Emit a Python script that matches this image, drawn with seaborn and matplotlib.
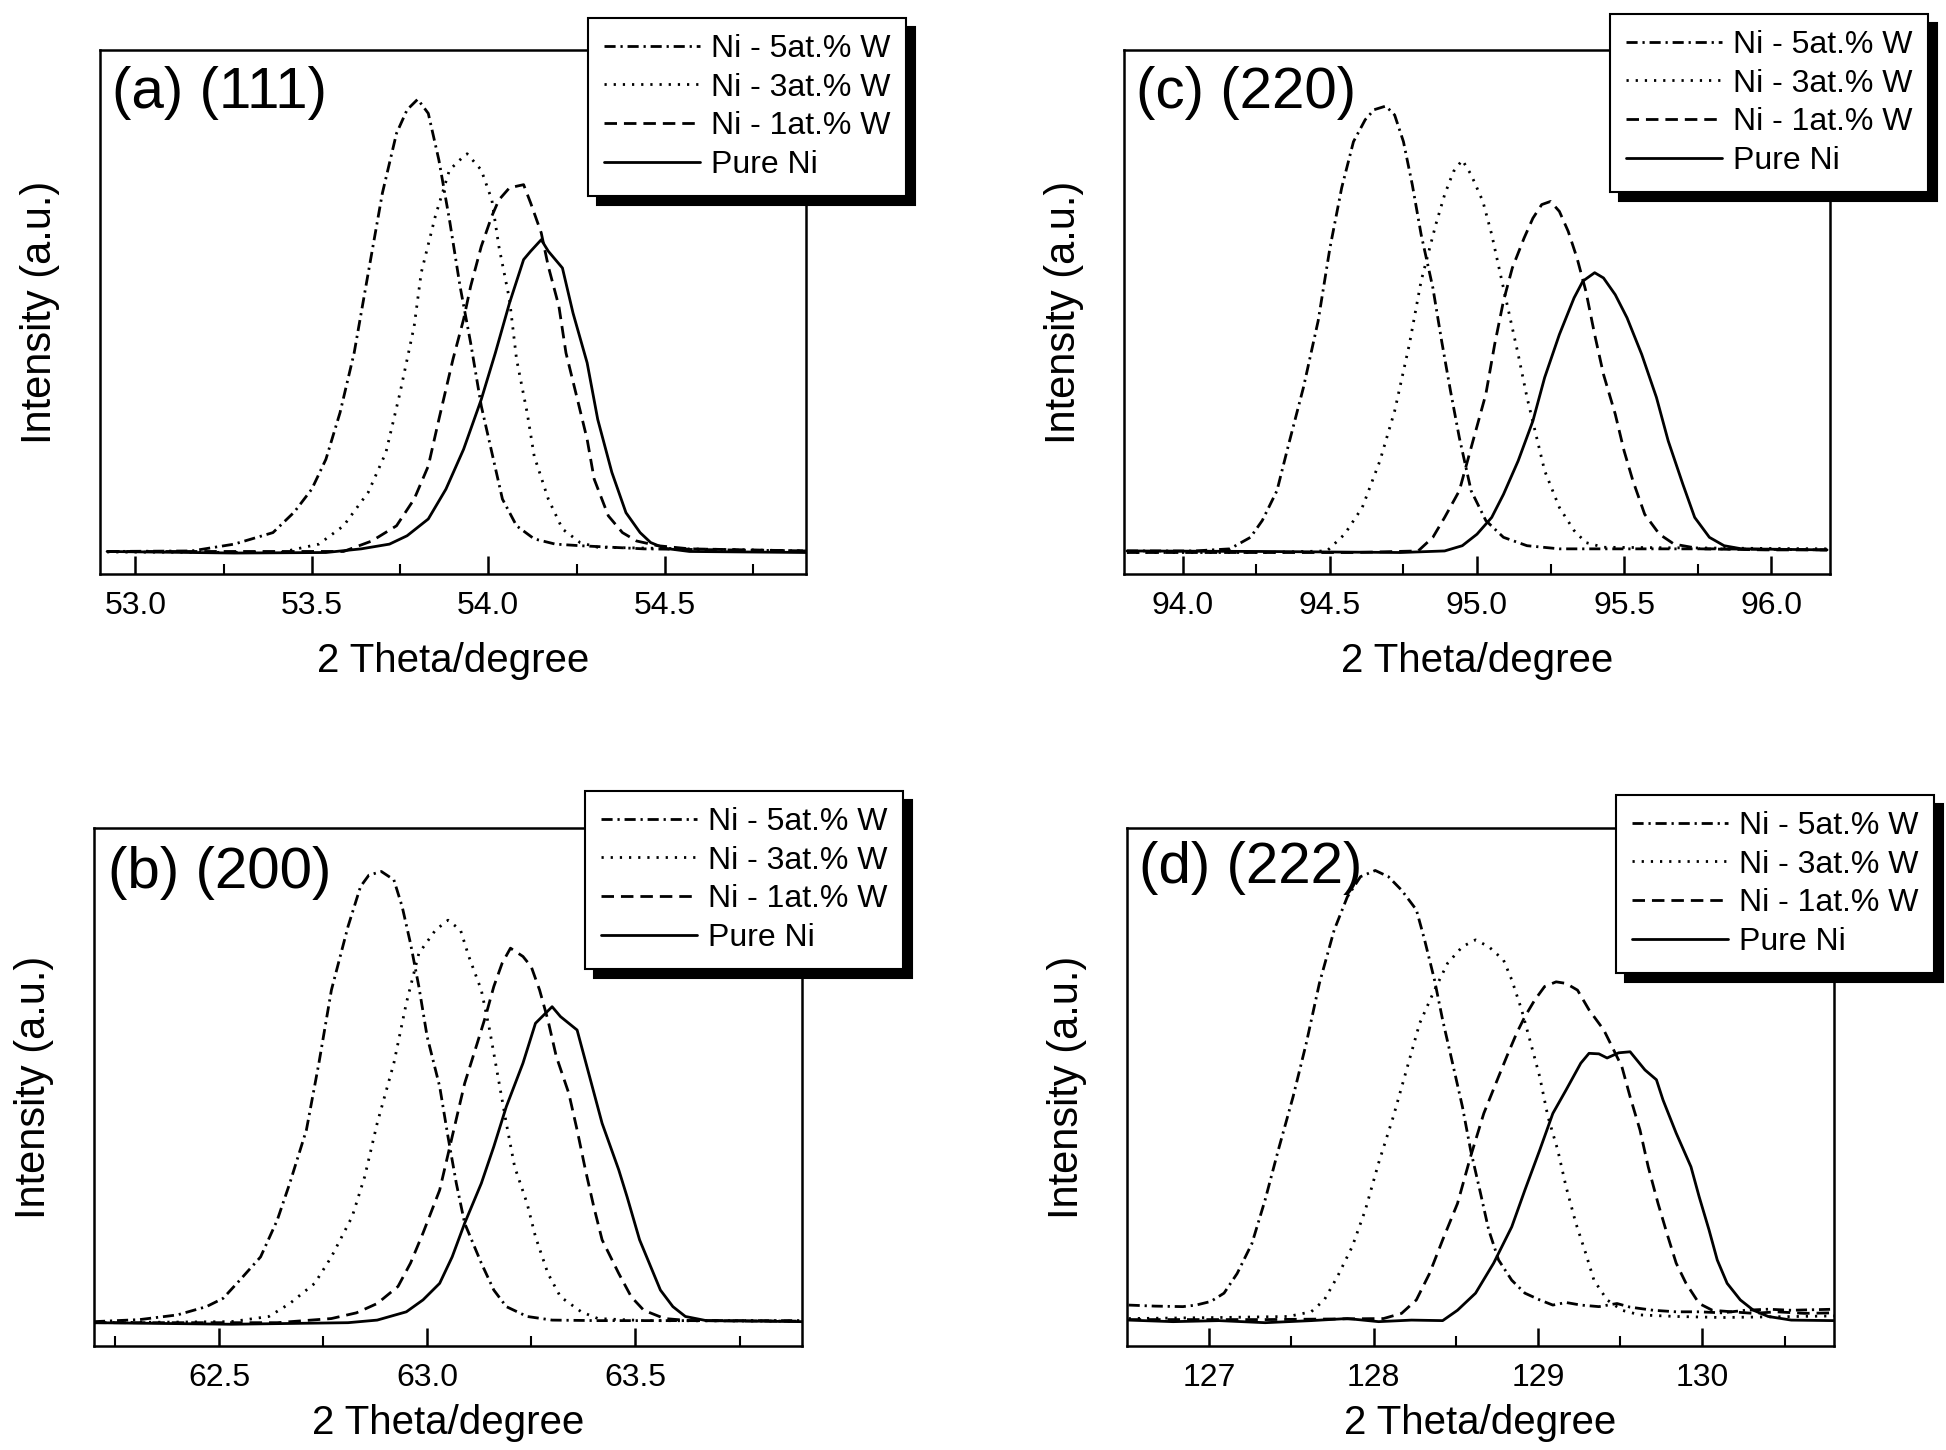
import matplotlib
matplotlib.use("Agg")
import matplotlib.pyplot as plt
import seaborn as sns

# ---------------- data ----------------
series_labels = ["Ni - 5at.% W", "Ni - 3at.% W", "Ni - 1at.% W", "Pure Ni"]
panel_titles = ["(a) (111)", "(b) (200)", "(c) (220)", "(d) (222)"]
x_title = "2 Theta/degree"
y_title = "Intensity (a.u.)"

# (a) (111)
a_major = [53.0, 53.5, 54.0, 54.5]
a_major_labels = ["53.0", "53.5", "54.0", "54.5"]
a_minor = [53.25, 53.75, 54.25, 54.75]
a5_x = [52.92, 53.16, 53.28, 53.39, 53.45, 53.50, 53.54, 53.58, 53.62, 53.66, 53.70, 53.74, 53.77, 53.80,
        53.83, 53.86, 53.89, 53.92, 53.95, 53.98, 54.01, 54.04, 54.08, 54.13, 54.19, 54.26, 54.44, 54.90]
a5_y = [4.3, 4.4, 5.7, 7.9, 11.8, 16.2, 21.9, 30.8, 42.2, 57.5, 72.7, 84.1, 88.6, 90.6,
        87.9, 79.0, 67.6, 54.9, 44.1, 32.1, 23.2, 14.3, 9.2, 6.7, 5.7, 5.4, 4.8, 4.4]
a3_x = [52.92, 53.41, 53.52, 53.59, 53.66, 53.71, 53.75, 53.79, 53.81, 53.85, 53.89, 53.93, 53.94, 53.98,
        54.01, 54.03, 54.06, 54.08, 54.11, 54.13, 54.17, 54.21, 54.26, 54.31, 54.90]
a3_y = [4.2, 4.1, 5.7, 9.2, 15.6, 23.2, 34.6, 47.3, 57.5, 68.3, 77.1, 79.7, 80.2, 77.1,
        71.4, 62.5, 52.4, 41.0, 30.8, 22.5, 14.3, 8.6, 6.0, 5.1, 4.4]
a1_x = [52.92, 53.59, 53.67, 53.74, 53.79, 53.83, 53.86, 53.90, 53.93, 53.95, 53.98, 54.01, 54.03, 54.06,
        54.10, 54.12, 54.15, 54.17, 54.20, 54.22, 54.25, 54.28, 54.30, 54.34, 54.38, 54.42, 54.48, 54.57, 54.90]
a1_y = [4.3, 4.3, 6.3, 9.2, 14.3, 20.6, 29.5, 41.0, 48.6, 54.9, 62.5, 68.3, 71.4, 73.7,
        74.3, 70.8, 65.1, 58.7, 51.1, 42.2, 34.0, 25.7, 18.1, 11.1, 7.9, 6.3, 5.4, 4.8, 4.4]
a0_x = [52.92, 53.28, 53.54, 53.64, 53.72, 53.77, 53.83, 53.88, 53.93, 53.98, 54.02, 54.06, 54.10, 54.12,
        54.15, 54.17, 54.21, 54.24, 54.28, 54.31, 54.35, 54.39, 54.43, 54.46, 54.50, 54.57, 54.90]
a0_y = [4.3, 4.0, 4.1, 4.8, 5.7, 7.3, 10.5, 16.2, 23.8, 33.3, 42.2, 51.7, 60.0, 61.6,
        63.8, 61.6, 58.4, 49.8, 40.3, 29.5, 19.4, 11.7, 7.9, 6.0, 4.9, 4.3, 4.1]

# (b) (200)
b_major = [62.5, 63.0, 63.5]
b_major_labels = ["62.5", "63.0", "63.5"]
b_minor = [62.25, 62.75, 63.25, 63.75]
b5_x = [62.20, 62.31, 62.40, 62.47, 62.51, 62.55, 62.60, 62.64, 62.67, 62.71, 62.74, 62.77, 62.81, 62.84,
        62.86, 62.89, 62.92, 62.94, 62.96, 62.98, 63.00, 63.03, 63.05, 63.07, 63.09, 63.13, 63.16, 63.19,
        63.24, 63.30, 63.41, 63.63, 63.90]
b5_y = [4.7, 5.1, 6.0, 7.6, 9.2, 12.7, 17.2, 24.3, 31.4, 41.7, 54.6, 68.7, 81.0, 88.7,
        90.9, 91.6, 90.0, 84.8, 77.7, 69.4, 59.7, 50.1, 40.4, 31.4, 23.7, 16.0, 10.8, 7.6,
        5.7, 5.0, 4.9, 4.9, 4.9]
b3_x = [62.20, 62.53, 62.62, 62.67, 62.73, 62.77, 62.82, 62.85, 62.88, 62.92, 62.95, 62.98, 63.02, 63.05,
        63.08, 63.10, 63.13, 63.15, 63.17, 63.19, 63.21, 63.24, 63.26, 63.29, 63.32, 63.37, 63.41, 63.52, 63.90]
b3_y = [4.5, 4.7, 5.7, 8.2, 12.1, 17.2, 25.0, 32.7, 43.0, 54.6, 66.2, 75.8, 80.3, 82.2,
        80.3, 75.2, 68.7, 61.0, 52.0, 43.0, 34.6, 27.5, 21.1, 14.0, 9.5, 6.6, 5.3, 4.9, 4.8]
b1_x = [62.20, 62.64, 62.77, 62.83, 62.88, 62.93, 62.96, 62.99, 63.03, 63.06, 63.09, 63.12, 63.14, 63.16,
        63.18, 63.20, 63.23, 63.25, 63.27, 63.29, 63.31, 63.34, 63.36, 63.38, 63.40, 63.42, 63.46, 63.49,
        63.52, 63.57, 63.63, 63.90]
b1_y = [4.5, 4.5, 5.3, 6.4, 8.2, 11.5, 16.0, 21.8, 30.1, 40.4, 50.7, 58.4, 63.6, 69.4,
        73.9, 76.8, 75.2, 73.2, 68.7, 62.9, 55.9, 48.8, 41.7, 34.0, 26.9, 20.5, 14.0, 9.5,
        6.9, 5.3, 4.9, 4.8]
b0_x = [62.20, 62.53, 62.81, 62.88, 62.95, 62.99, 63.03, 63.06, 63.09, 63.13, 63.16, 63.19, 63.23, 63.26,
        63.30, 63.32, 63.36, 63.39, 63.42, 63.46, 63.48, 63.51, 63.56, 63.59, 63.62, 63.67, 63.90]
b0_y = [4.5, 4.2, 4.5, 5.0, 6.6, 8.9, 12.1, 17.2, 23.7, 31.4, 38.5, 46.2, 54.6, 62.3,
        65.5, 63.6, 61.0, 52.0, 43.0, 34.0, 28.8, 20.5, 10.8, 7.6, 5.7, 4.9, 4.7]

# (c) (220)
c_major = [94.0, 94.5, 95.0, 95.5, 96.0]
c_major_labels = ["94.0", "94.5", "95.0", "95.5", "96.0"]
c_minor = [94.25, 94.75, 95.25, 95.75]
c5_x = [93.81, 94.04, 94.16, 94.23, 94.27, 94.32, 94.36, 94.41, 94.46, 94.50, 94.54, 94.58, 94.62, 94.65,
        94.69, 94.72, 94.75, 94.78, 94.81, 94.85, 94.88, 94.91, 94.94, 94.98, 95.03, 95.09, 95.17, 95.28,
        95.51, 95.82, 96.19]
c5_y = [4.4, 4.4, 4.8, 7.0, 10.2, 15.9, 24.8, 35.6, 48.3, 62.2, 73.7, 82.5, 86.7, 88.6,
        89.3, 87.6, 82.5, 74.3, 64.8, 54.6, 44.4, 34.9, 26.0, 15.9, 10.2, 7.0, 5.4, 4.8,
        4.8, 4.8, 4.6]
c3_x = [93.81, 94.27, 94.49, 94.55, 94.61, 94.67, 94.72, 94.77, 94.81, 94.86, 94.89, 94.92, 94.95, 94.98,
        95.02, 95.05, 95.08, 95.11, 95.14, 95.17, 95.20, 95.23, 95.28, 95.33, 95.37, 95.43, 95.67, 96.19]
c3_y = [4.1, 4.1, 4.4, 7.6, 12.7, 21.6, 31.1, 43.8, 55.9, 66.7, 72.4, 76.8, 79.0, 76.2,
        71.1, 64.8, 57.1, 49.5, 41.9, 33.7, 26.7, 19.7, 12.7, 8.3, 6.0, 5.1, 5.0, 4.8]
c1_x = [93.81, 94.58, 94.80, 94.85, 94.89, 94.94, 94.98, 95.03, 95.06, 95.09, 95.12, 95.16, 95.19, 95.22,
        95.25, 95.28, 95.31, 95.34, 95.37, 95.40, 95.43, 95.47, 95.50, 95.53, 95.57, 95.62, 95.67, 95.76,
        95.98, 96.19]
c1_y = [4.1, 4.1, 4.4, 7.0, 10.8, 15.9, 24.1, 34.3, 43.8, 52.1, 58.4, 64.1, 67.9, 70.5,
        71.1, 69.2, 65.4, 60.3, 54.0, 45.7, 38.1, 30.5, 23.5, 17.8, 11.4, 7.6, 5.7, 4.8,
        4.6, 4.6]
c0_x = [93.81, 94.27, 94.74, 94.89, 94.95, 95.00, 95.05, 95.09, 95.14, 95.19, 95.23, 95.28, 95.33, 95.36,
        95.40, 95.43, 95.47, 95.51, 95.56, 95.61, 95.65, 95.70, 95.74, 95.79, 95.84, 95.90, 96.19]
c0_y = [4.4, 4.3, 4.1, 4.4, 5.4, 7.6, 10.8, 15.2, 21.6, 29.2, 37.5, 45.7, 52.7, 55.9,
        57.5, 56.5, 53.3, 48.9, 41.9, 33.7, 25.4, 17.1, 10.8, 7.0, 5.4, 4.8, 4.6]

# (d) (222)
d_major = [127, 128, 129, 130]
d_major_labels = ["127", "128", "129", "130"]
d_minor = [127.5, 128.5, 129.5, 130.5]
d5_x = [126.51, 126.67, 126.84, 126.92, 127.01, 127.09, 127.17, 127.26, 127.34, 127.42, 127.51, 127.59,
        127.67, 127.76, 127.84, 127.92, 128.01, 128.09, 128.17, 128.26, 128.31, 128.37, 128.42, 128.48,
        128.54, 128.59, 128.65, 128.70, 128.76, 128.84, 128.92, 129.01, 129.09, 129.17, 129.26, 129.37,
        129.48, 129.56, 129.70, 129.84, 129.98, 130.12, 130.26, 130.40, 130.54, 130.80]
d5_y = [7.9, 7.7, 7.6, 7.9, 8.6, 10.2, 14.0, 19.8, 28.2, 37.8, 48.1, 58.4,
        70.0, 80.3, 86.7, 90.6, 91.8, 90.6, 88.0, 84.2, 78.4, 70.7, 62.9, 54.6,
        46.2, 37.8, 29.5, 22.4, 16.6, 12.7, 10.2, 8.9, 7.9, 8.4, 7.9, 7.6,
        8.2, 7.5, 6.9, 6.6, 6.6, 6.4, 6.9, 7.1, 6.9, 7.1]
d3_x = [126.51, 127.06, 127.48, 127.62, 127.70, 127.78, 127.87, 127.95, 128.03, 128.12, 128.20, 128.28,
        128.37, 128.45, 128.54, 128.62, 128.70, 128.79, 128.84, 128.90, 128.95, 129.01, 129.06, 129.12,
        129.17, 129.23, 129.29, 129.34, 129.42, 129.51, 129.62, 129.84, 130.12, 130.80]
d3_y = [5.3, 5.5, 5.7, 6.6, 8.9, 13.4, 19.2, 26.3, 35.3, 44.3, 53.3, 62.3,
        68.7, 73.9, 77.1, 78.4, 77.1, 74.5, 70.7, 64.9, 59.1, 52.0, 44.3, 37.8,
        30.8, 23.7, 17.9, 12.7, 8.9, 6.9, 6.0, 5.7, 5.5, 5.8]
d1_x = [126.51, 127.34, 128.06, 128.17, 128.26, 128.34, 128.42, 128.51, 128.59, 128.67, 128.76, 128.81,
        128.87, 128.92, 128.98, 129.04, 129.11, 129.17, 129.24, 129.31, 129.40, 129.45, 129.51, 129.56,
        129.62, 129.67, 129.73, 129.79, 129.84, 129.90, 129.98, 130.06, 130.18, 130.31, 130.45, 130.62, 130.80]
d1_y = [5.1, 5.1, 5.3, 6.3, 8.9, 14.0, 20.5, 27.5, 36.6, 44.9, 52.0, 55.9,
        60.4, 63.6, 66.8, 69.4, 70.3, 70.0, 68.7, 64.9, 61.0, 57.8, 53.9, 48.1,
        41.7, 34.6, 27.5, 21.1, 16.0, 12.1, 8.2, 6.9, 6.6, 6.3, 6.6, 6.3, 6.4]
d0_x = [126.51, 126.78, 127.06, 127.34, 127.62, 127.84, 128.03, 128.23, 128.42, 128.51, 128.62, 128.73,
        128.84, 128.92, 129.01, 129.09, 129.17, 129.26, 129.31, 129.37, 129.42, 129.49, 129.56, 129.65,
        129.72, 129.76, 129.84, 129.93, 129.98, 130.04, 130.09, 130.15, 130.23, 130.31, 130.40, 130.54, 130.80]
d0_y = [5.0, 4.7, 4.9, 4.5, 4.9, 5.3, 4.7, 5.0, 4.9, 6.9, 10.2, 16.0,
        23.0, 30.1, 37.8, 44.9, 49.4, 54.6, 56.5, 56.4, 55.6, 56.6, 56.8, 53.3,
        51.4, 47.5, 41.1, 34.6, 28.8, 22.4, 16.6, 12.1, 8.9, 6.9, 5.7, 5.0, 4.9]

# ---------------- style ----------------
sns.set_style("white")
plt.rcParams["font.family"] = ["Liberation Sans", "DejaVu Sans"]
plt.rcParams["lines.scale_dashes"] = False
for k in ["axes.edgecolor", "text.color", "axes.labelcolor", "xtick.color", "ytick.color"]:
    plt.rcParams[k] = "black"

W, H = 1946, 1450
fig = plt.figure(figsize=(W / 100, H / 100), dpi=100)
fig.patch.set_facecolor("white")

line_styles = [(0, (8, 3.5, 1.6, 3.5)), (0, (1.6, 5.0)), (0, (9, 5)), "-"]

panels = [
    dict(rect=(100, 50, 806, 574), xlim=(52.9, 54.9), major=a_major, labels=a_major_labels, minor=a_minor,
         title=panel_titles[0], title_xy=(112, 93), legend_xy=(588, 18), xlabelpad=15,
         series=[(a5_x, a5_y), (a3_x, a3_y), (a1_x, a1_y), (a0_x, a0_y)]),
    dict(rect=(94, 828, 802, 1346), xlim=(62.2, 63.9), major=b_major, labels=b_major_labels, minor=b_minor,
         title=panel_titles[1], title_xy=(108, 873), legend_xy=(585, 791), xlabelpad=8,
         series=[(b5_x, b5_y), (b3_x, b3_y), (b1_x, b1_y), (b0_x, b0_y)]),
    dict(rect=(1124, 50, 1830, 574), xlim=(93.8, 96.2), major=c_major, labels=c_major_labels, minor=c_minor,
         title=panel_titles[2], title_xy=(1136, 93), legend_xy=(1610, 14), xlabelpad=15,
         series=[(c5_x, c5_y), (c3_x, c3_y), (c1_x, c1_y), (c0_x, c0_y)]),
    dict(rect=(1127, 828, 1834, 1346), xlim=(126.5, 130.8), major=d_major, labels=d_major_labels, minor=d_minor,
         title=panel_titles[3], title_xy=(1139, 868), legend_xy=(1616, 795), xlabelpad=8,
         series=[(d5_x, d5_y), (d3_x, d3_y), (d1_x, d1_y), (d0_x, d0_y)]),
]

for p in panels:
    l, t, r, b = p["rect"]
    ax = fig.add_axes([l / W, 1 - b / H, (r - l) / W, (b - t) / H])
    ax.set_facecolor("white")
    for (xs, ys), lab, ls in zip(p["series"], series_labels, line_styles):
        sns.lineplot(x=xs, y=ys, ax=ax, color="black", linewidth=2.0, linestyle=ls,
                     label=lab, sort=False, estimator=None, legend=False)
    ax.set_xlim(*p["xlim"])
    ax.set_ylim(0, 100)
    ax.set_yticks([])
    ax.set_xticks(p["major"], labels=p["labels"])
    ax.set_xticks(p["minor"], minor=True)
    ax.tick_params(axis="x", which="major", direction="in", length=13, width=1.8,
                   labelsize=23, pad=12, bottom=True, top=False)
    ax.tick_params(axis="x", which="minor", direction="in", length=7, width=1.5,
                   bottom=True, top=False)
    for s in ax.spines.values():
        s.set_visible(True)
        s.set_linewidth(1.8)
        s.set_color("black")
    ax.set_xlabel(x_title, fontsize=29, labelpad=p["xlabelpad"])
    ax.set_ylabel(y_title, fontsize=30, labelpad=29)

    fig.text(p["title_xy"][0] / W, 1 - p["title_xy"][1] / H, p["title"], fontsize=42,
             ha="left", va="center")

    handles, labs = ax.get_legend_handles_labels()
    lx, ly = p["legend_xy"]
    leg = ax.legend(handles, labs, loc="upper left", bbox_to_anchor=(lx / W, 1 - ly / H),
                    bbox_transform=fig.transFigure, borderaxespad=0, frameon=True,
                    fancybox=False, edgecolor="black", framealpha=1, facecolor="white",
                    fontsize=23, handlelength=3.0, handletextpad=0.35, labelspacing=0.27,
                    borderpad=0.5,
                    shadow={"ox": 6.5, "oy": -6.5, "facecolor": "black", "edgecolor": "black", "alpha": 1})
    leg.get_frame().set_linewidth(1.5)
    leg.set_zorder(10)

fig.savefig("out.png", dpi=100, facecolor="white")
